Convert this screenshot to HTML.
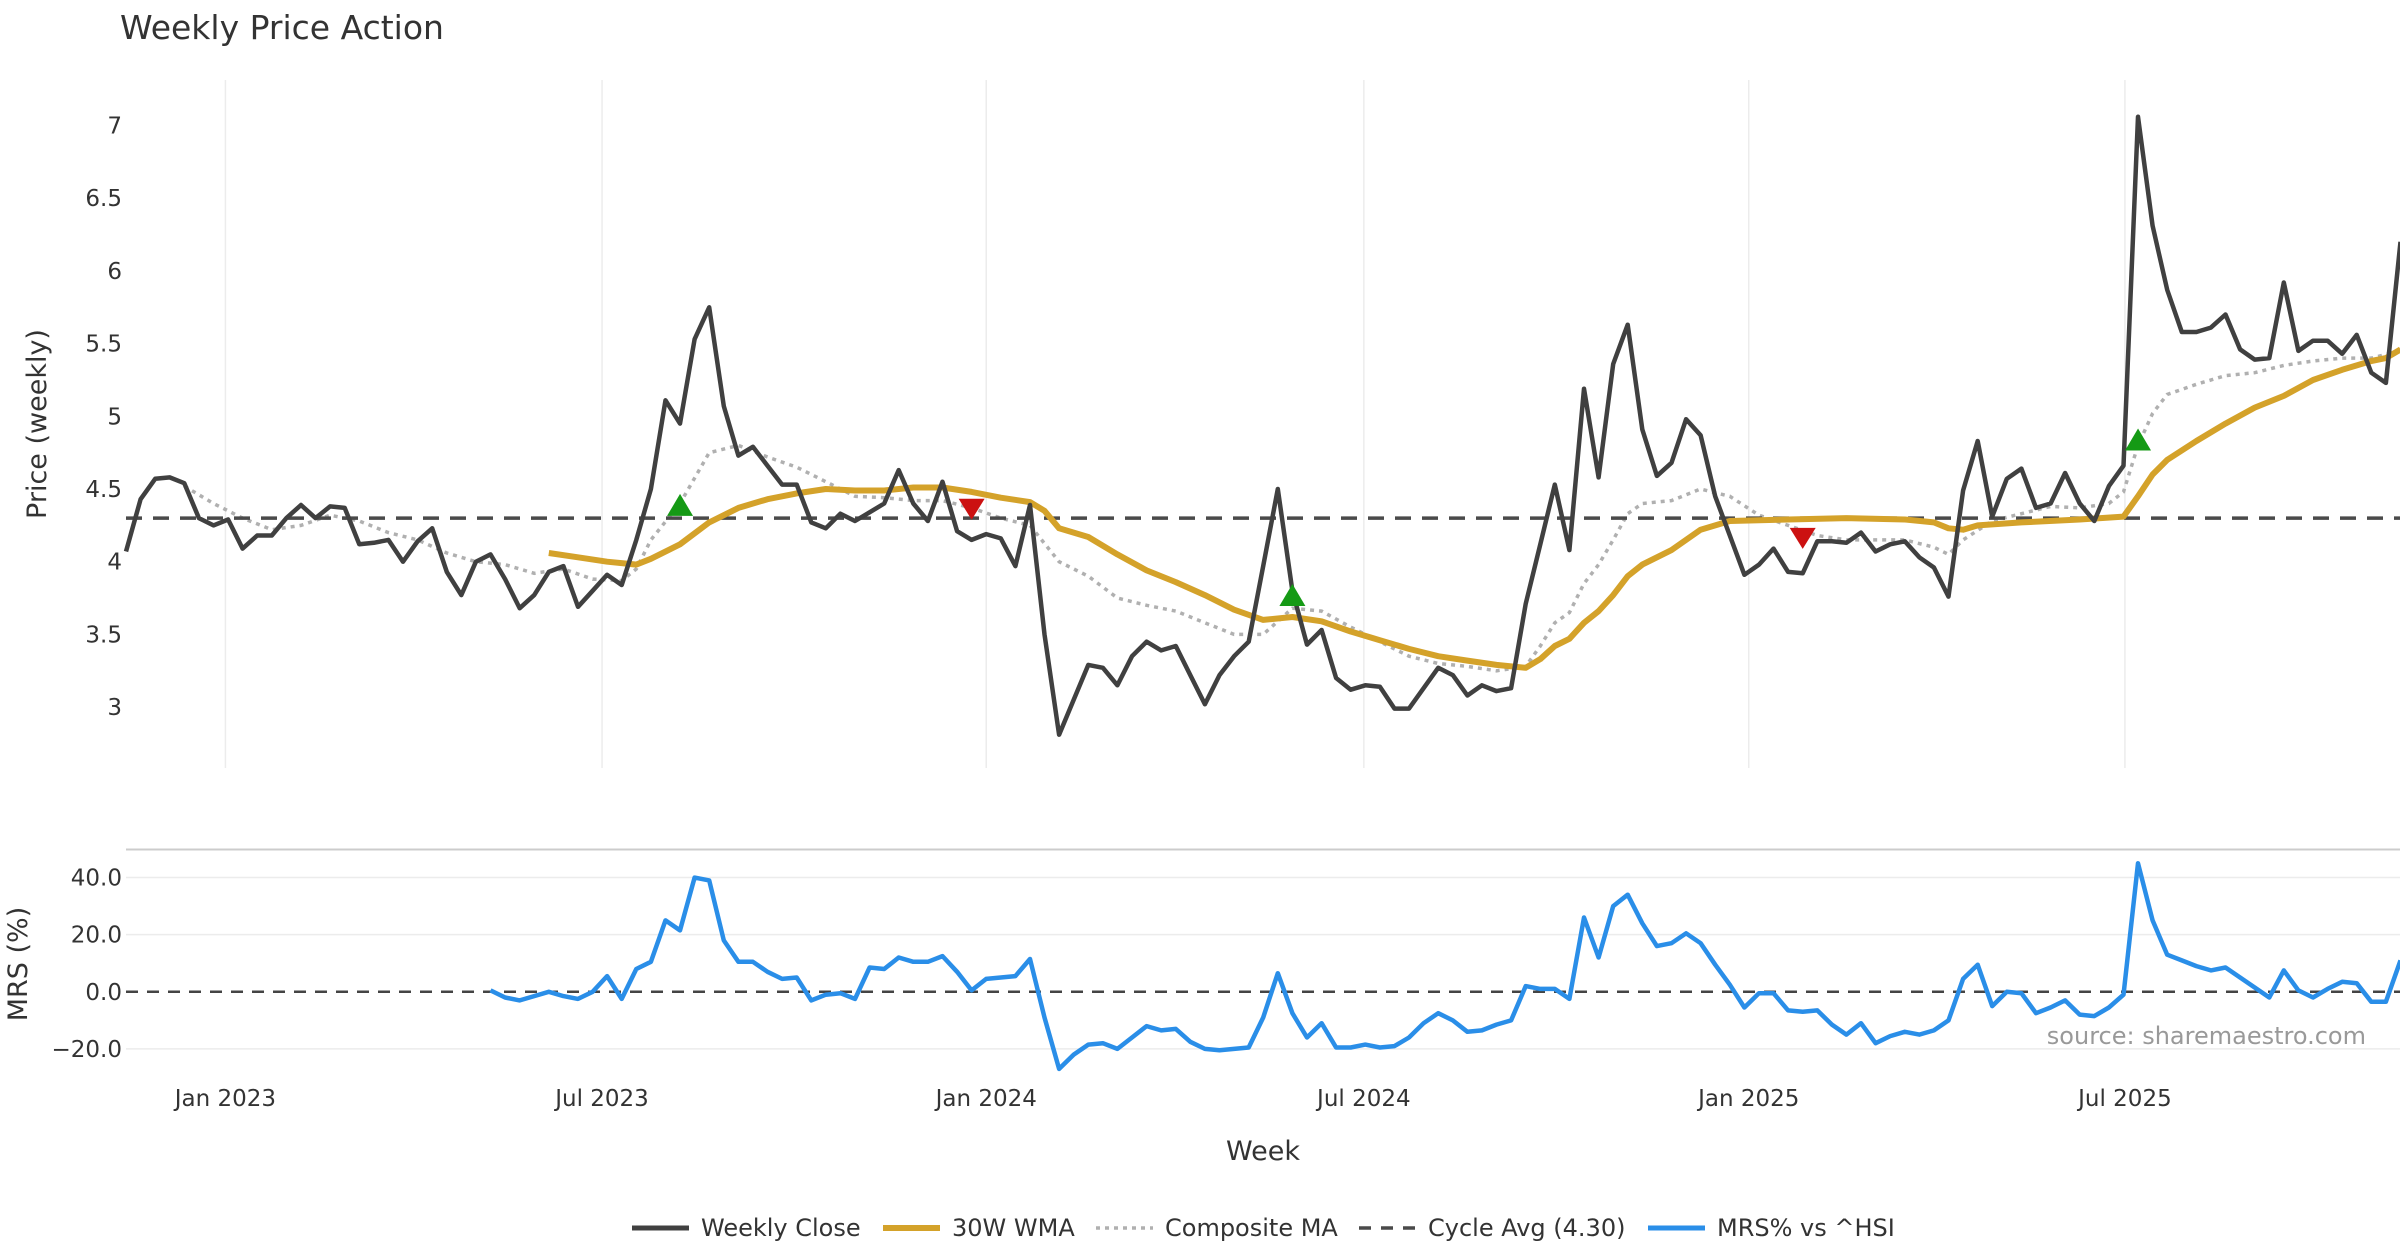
<!DOCTYPE html>
<html><head><meta charset="utf-8"><style>
html,body{margin:0;padding:0;background:#fff;}
svg{display:block;font-family:"DejaVu Sans","Liberation Sans",sans-serif;}
</style></head><body>
<svg id="chart" width="2400" height="1260" viewBox="0 0 2400 1260">
<text x="120" y="39" font-size="33" fill="#333">Weekly Price Action</text>
<g id="grid"></g>
<g id="ma"></g>
<g id="marks"></g>
<g id="axes"></g>
<text x="46" y="424" font-size="27" fill="#333" text-anchor="middle" transform="rotate(-90 46 424)">Price (weekly)</text>
<text x="27" y="964" font-size="27" fill="#333" text-anchor="middle" transform="rotate(-90 27 964)">MRS (%)</text>
<text x="1263" y="1160" font-size="27" fill="#333" text-anchor="middle">Week</text>
<text x="2366" y="1044" font-size="24" fill="#999" text-anchor="end">source: sharemaestro.com</text>
<g id="legend"></g>
</svg>
<script>
const closeVals=[4.07,4.43,4.57,4.58,4.54,4.30,4.25,4.29,4.09,4.18,4.18,4.30,4.39,4.30,4.38,4.37,4.12,4.13,4.15,4.00,4.14,4.23,3.93,3.77,4.00,4.05,3.88,3.68,3.77,3.93,3.97,3.69,3.80,3.91,3.84,4.15,4.50,5.11,4.95,5.53,5.75,5.07,4.73,4.79,4.66,4.53,4.53,4.27,4.23,4.33,4.28,4.34,4.40,4.63,4.40,4.28,4.55,4.21,4.15,4.19,4.16,3.97,4.39,3.50,2.81,3.05,3.29,3.27,3.15,3.35,3.45,3.39,3.42,3.22,3.02,3.22,3.35,3.45,3.97,4.50,3.80,3.43,3.53,3.20,3.12,3.15,3.14,2.99,2.99,3.13,3.27,3.22,3.08,3.15,3.11,3.13,3.71,4.12,4.53,4.08,5.19,4.58,5.36,5.63,4.91,4.59,4.68,4.98,4.87,4.45,4.18,3.91,3.98,4.09,3.93,3.92,4.14,4.14,4.13,4.20,4.07,4.12,4.14,4.03,3.96,3.76,4.49,4.83,4.31,4.57,4.64,4.37,4.40,4.61,4.40,4.28,4.52,4.66,7.06,6.31,5.87,5.58,5.58,5.61,5.70,5.46,5.39,5.40,5.92,5.45,5.52,5.52,5.43,5.56,5.30,5.23,6.20];
const wmaIdx=[29,31,33,35,36,38,40,42,44,46,48,50,52,54,56,58,60,62,63,64,66,68,70,72,74,76,78,80,82,84,86,88,90,92,94,96,97,98,99,100,101,102,103,104,106,108,110,114,118,122,124,125,126,127,130,134,137,138,139,140,142,144,146,148,150,152,154,155,156];
const wmaVals=[4.06,4.03,4.00,3.98,4.02,4.12,4.27,4.37,4.43,4.47,4.50,4.49,4.49,4.51,4.51,4.48,4.44,4.41,4.35,4.23,4.17,4.05,3.94,3.86,3.77,3.67,3.60,3.62,3.59,3.52,3.46,3.40,3.35,3.32,3.29,3.27,3.33,3.42,3.47,3.58,3.66,3.77,3.90,3.98,4.08,4.22,4.28,4.29,4.30,4.29,4.27,4.23,4.22,4.25,4.27,4.29,4.31,4.45,4.60,4.70,4.83,4.95,5.06,5.14,5.25,5.32,5.38,5.40,5.46];
const compIdx=[4,6,8,10,12,14,16,18,20,22,24,26,28,30,32,34,35,36,38,40,42,44,46,48,50,52,54,56,58,60,62,64,66,68,70,72,74,76,78,80,82,84,86,88,90,92,94,96,97,98,99,100,101,102,103,104,106,108,110,112,114,116,118,120,122,124,125,126,128,130,132,134,136,137,138,139,140,142,144,146,148,150,152,154,156];
const compVals=[4.52,4.40,4.30,4.22,4.25,4.32,4.28,4.20,4.15,4.06,4.00,3.98,3.92,3.95,3.88,3.87,3.95,4.15,4.40,4.75,4.80,4.72,4.65,4.55,4.45,4.44,4.42,4.42,4.37,4.30,4.25,4.00,3.90,3.75,3.70,3.66,3.58,3.50,3.50,3.68,3.66,3.55,3.45,3.35,3.30,3.28,3.25,3.28,3.42,3.58,3.65,3.85,3.98,4.15,4.33,4.40,4.42,4.50,4.45,4.32,4.25,4.18,4.15,4.15,4.15,4.10,4.05,4.15,4.28,4.33,4.38,4.37,4.40,4.48,4.80,5.02,5.15,5.22,5.28,5.30,5.35,5.38,5.40,5.40,5.45];
const cycleAvg=4.30;
const signalIdx=[38,58,80,115,138];
const signalVals=[4.37,4.35,3.75,4.15,4.82];
const signalDir=["up","down","up","down","up"];
const mrsStart=25;
const mrsVals=[0.5,-2,-3,-1.5,0,-1.5,-2.5,0,5.5,-2.5,8,10.5,25,21.5,40,39,18,10.5,10.5,7,4.5,5,-3,-1,-0.5,-2.5,8.5,8,12,10.5,10.5,12.5,7,0.5,4.5,5,5.5,11.5,-9,-27,-22,-18.5,-18,-20,-16,-12,-13.5,-13,-17.5,-20,-20.5,-20,-19.5,-9,6.5,-7.5,-16,-11,-19.5,-19.5,-18.5,-19.5,-19,-16,-11,-7.5,-10,-14,-13.5,-11.5,-10,2,1,1,-2.5,26,12,30,34,24,16,17,20.5,17,9.5,2.5,-5.5,-0.5,-0.5,-6.5,-7,-6.5,-11.5,-15,-11,-18,-15.5,-14,-15,-13.5,-10,4.5,9.5,-5,0,-0.5,-7.5,-5.5,-3,-8,-8.5,-5.5,-1,45,25,13,11,9,7.5,8.5,5,1.5,-2,7.5,0.5,-2,1,3.5,3,-3.5,-3.5,11];
const priceTicks=[3,3.5,4,4.5,5,5.5,6,6.5,7];
const priceTickLabels=["3","3.5","4","4.5","5","5.5","6","6.5","7"];
const mrsTicks=[-20,0,20,40];
const mrsTickLabels=["\u221220.0","0.0","20.0","40.0"];
const dateTickIdx=[6.82,32.65,59.0,84.9,111.3,137.1];
const dateTickLabels=["Jan 2023","Jul 2023","Jan 2024","Jul 2024","Jan 2025","Jul 2025"];

const NS="http://www.w3.org/2000/svg";
const X0=126,DX=14.58;
function xS(i){return X0+i*DX;}
function yP(v){return 125.5+(7-v)*145.4;}
function yM(v){return 991.8-v*2.856;}
function mk(tag,attrs,parent){const e=document.createElementNS(NS,tag);for(const k in attrs)e.setAttribute(k,attrs[k]);parent.appendChild(e);return e;}
const gridG=document.getElementById('grid'),maG=document.getElementById('ma'),marksG=document.getElementById('marks'),axesG=document.getElementById('axes'),legendG=document.getElementById('legend');

dateTickIdx.forEach((t,k)=>{
  const g=mk('line',{x1:xS(t),x2:xS(t),y1:80,y2:768,stroke:'#ececec','stroke-width':1.5},gridG);
  
  
  const tx=mk('text',{x:xS(t),y:1106,'font-size':23,fill:'#333','text-anchor':'middle'},axesG);
  tx.textContent=dateTickLabels[k];
  
  
});
priceTicks.forEach((v,k)=>{
  const tx=mk('text',{x:122,y:yP(v)+8,'font-size':23,fill:'#333','text-anchor':'end'},axesG);
  tx.textContent=priceTickLabels[k];
  
  
});
const panelTop=mk('line',{x1:126,x2:2400,y1:849.5,y2:849.5,stroke:'#cccccc','stroke-width':2},gridG);


mrsTicks.forEach((v,k)=>{
  if(v!==0){const l=mk('line',{x1:126,x2:2400,y1:yM(v),y2:yM(v),stroke:'#ececec','stroke-width':1.5},gridG);
    
    }
  const tx=mk('text',{x:122,y:yM(v)+8,'font-size':23,fill:'#333','text-anchor':'end'},axesG);
  tx.textContent=mrsTickLabels[k];
  
  
});
const zl=mk('line',{x1:126,x2:2400,y1:yM(0),y2:yM(0),stroke:'#444','stroke-width':2.5,'stroke-dasharray':'12,9'},gridG);



function pts(idx,vals,yf){return idx.map((i,k)=>xS(i).toFixed(1)+','+yf(vals[k]).toFixed(1)).join(' ');}
const comp=mk('polyline',{points:pts(compIdx,compVals,yP),fill:'none',stroke:'#b0b0b0','stroke-width':3.5,'stroke-dasharray':'4,5'},maG);


const cyc=mk('line',{x1:126,x2:2400,y1:yP(cycleAvg),y2:yP(cycleAvg),stroke:'#4a4a4a','stroke-width':3.5,'stroke-dasharray':'16,11'},maG);


const wma=mk('polyline',{points:pts(wmaIdx,wmaVals,yP),fill:'none',stroke:'#d4a22a','stroke-width':6,'stroke-linejoin':'round'},maG);


const cl=mk('polyline',{points:pts(closeVals.map((_,i)=>i),closeVals,yP),fill:'none',stroke:'#404040','stroke-width':4.5,'stroke-linejoin':'round'},marksG);


signalIdx.forEach((i,k)=>{
  const x=xS(i),y=yP(signalVals[k]);let p;
  if(signalDir[k]==='up')p=`${x-13},${y+8} ${x+13},${y+8} ${x},${y-14}`;
  else p=`${x-13},${y-12} ${x+13},${y-12} ${x},${y+9}`;
  const m=mk('polygon',{points:p,fill:signalDir[k]==='up'?'#159a15':'#cc1111'},marksG);
  
  
});
const mrs=mk('polyline',{points:pts(mrsVals.map((_,k)=>k+mrsStart),mrsVals,yM),fill:'none',stroke:'#2a8ee8','stroke-width':4.5,'stroke-linejoin':'round'},marksG);



const legItems=[
 {x:632,label:'Weekly Close',stroke:'#404040',w:5,dash:''},
 {x:883,label:'30W WMA',stroke:'#d4a22a',w:6,dash:''},
 {x:1096,label:'Composite MA',stroke:'#b0b0b0',w:3.5,dash:'4,5'},
 {x:1359,label:'Cycle Avg (4.30)',stroke:'#4a4a4a',w:3.5,dash:'12,10'},
 {x:1648,label:'MRS% vs ^HSI',stroke:'#2a8ee8',w:5,dash:''}];
legItems.forEach(it=>{
  const g=mk('g',{},legendG);
  
  
  mk('line',{x1:it.x,x2:it.x+57,y1:1228,y2:1228,stroke:it.stroke,'stroke-width':it.w,'stroke-dasharray':it.dash},g);
  const t=mk('text',{x:it.x+69,y:1236,'font-size':24,fill:'#333'},g);
  t.textContent=it.label;
});
</script>
</body></html>
